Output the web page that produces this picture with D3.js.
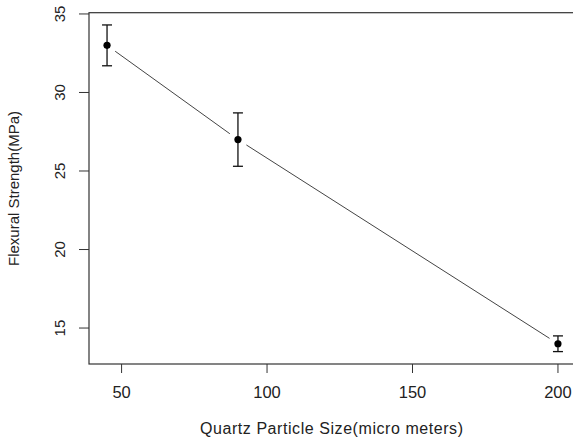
<!DOCTYPE html>
<html>
<head>
<meta charset="utf-8">
<script src="https://cdn.jsdelivr.net/npm/d3@7"></script>
<style>
  body { margin: 0; background: #fff; }
  text { font-family: "Liberation Sans", Arial, sans-serif; fill: #222; }
</style>
</head>
<body>
<div id="chart"></div>
<script>
// particle size (micro meters), strength (MPa), error half-widths
const sizes = [45, 90, 200];
const strength = [33, 27, 14];
const errors = [1.3, 1.7, 0.5];
const xTicks = [50, 100, 150, 200];
const yTicks = [15, 20, 25, 30, 35];

const width = 573, height = 441;
const svg = d3.select("#chart").append("svg")
  .attr("width", width).attr("height", height);

const x = d3.scaleLinear().domain([38.8, 206.2]).range([89, 576]);
const y = d3.scaleLinear().domain([12.71, 35.08]).range([364, 12.7]);

// plot box (right edge falls outside the picture)
svg.append("rect")
  .attr("x", x.range()[0]).attr("y", y.range()[1])
  .attr("width", x.range()[1] - x.range()[0])
  .attr("height", y.range()[0] - y.range()[1])
  .attr("fill", "none").attr("stroke", "#333").attr("stroke-width", 1.2);

// x axis ticks + labels
const xa = svg.append("g");
xa.selectAll("line").data(xTicks).join("line")
  .attr("x1", d => x(d)).attr("x2", d => x(d))
  .attr("y1", 364).attr("y2", 373)
  .attr("stroke", "#333");
xa.selectAll("text").data(xTicks).join("text")
  .attr("x", d => x(d)).attr("y", 397.5)
  .attr("text-anchor", "middle")
  .style("font-size", "16.5px")
  .text(d => d);

// y axis ticks + labels (rotated like R)
const ya = svg.append("g");
ya.selectAll("line").data(yTicks).join("line")
  .attr("x1", 79).attr("x2", 89)
  .attr("y1", d => y(d)).attr("y2", d => y(d))
  .attr("stroke", "#333");
ya.selectAll("text").data(yTicks).join("text")
  .attr("transform", d => `translate(65,${y(d)}) rotate(-90)`)
  .attr("text-anchor", "middle")
  .style("font-size", "15px")
  .text(d => d);

// titles
svg.append("text")
  .attr("x", 331.5).attr("y", 434)
  .attr("text-anchor", "middle")
  .attr("textLength", 263)
  .style("font-size", "16px")
  .text("Quartz Particle Size(micro meters)");
svg.append("text")
  .attr("transform", "translate(19,188.5) rotate(-90)")
  .attr("text-anchor", "middle")
  .style("font-size", "15px")
  .text("Flexural Strength(MPa)");

// type "b" line: segments with a gap around each point
const pts = sizes.map((s, i) => [x(s), y(strength[i])]);
const gap = 10;
const segs = d3.pairs(pts).map(([a, b]) => {
  const dx = b[0] - a[0], dy = b[1] - a[1];
  const len = Math.hypot(dx, dy);
  const ux = dx / len, uy = dy / len;
  return [a[0] + ux * gap, a[1] + uy * gap, b[0] - ux * gap, b[1] - uy * gap];
});
svg.append("g").selectAll("line").data(segs).join("line")
  .attr("x1", d => d[0]).attr("y1", d => d[1])
  .attr("x2", d => d[2]).attr("y2", d => d[3])
  .attr("stroke", "#444").attr("stroke-width", 1);

// error bars
const eb = svg.append("g").attr("stroke", "#111").attr("stroke-width", 1.3);
sizes.forEach((s, i) => {
  const cx = x(s), lo = y(strength[i] - errors[i]), hi = y(strength[i] + errors[i]);
  eb.append("line").attr("x1", cx).attr("x2", cx).attr("y1", lo).attr("y2", hi);
  eb.append("line").attr("x1", cx - 5).attr("x2", cx + 5).attr("y1", lo).attr("y2", lo);
  eb.append("line").attr("x1", cx - 5).attr("x2", cx + 5).attr("y1", hi).attr("y2", hi);
});

// points
svg.append("g").selectAll("circle").data(sizes).join("circle")
  .attr("cx", d => x(d))
  .attr("cy", (d, i) => y(strength[i]))
  .attr("r", 3.6)
  .attr("fill", "#000");
</script>
</body>
</html>
